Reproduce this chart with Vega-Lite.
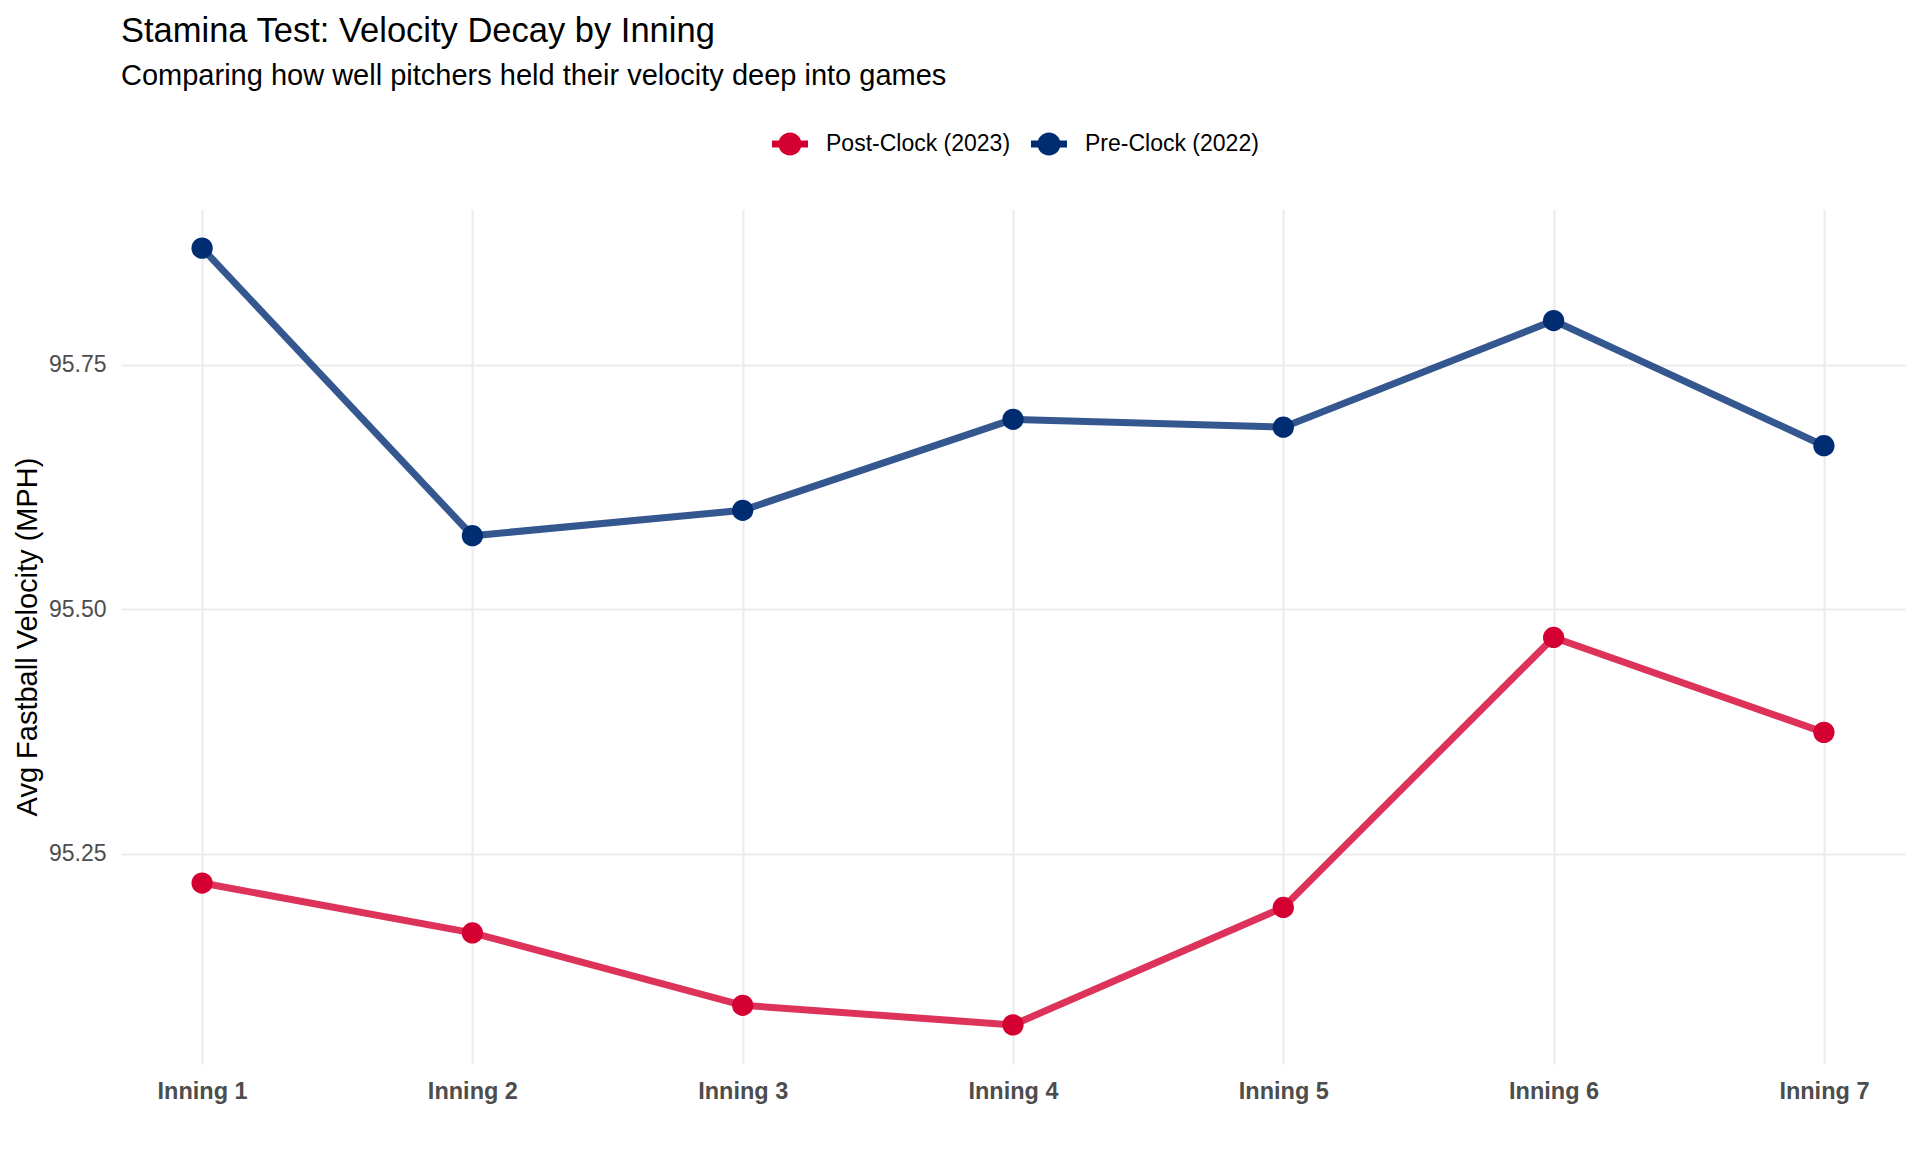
{
  "$schema": "https://vega.github.io/schema/vega-lite/v6.json",
  "width": 1784,
  "height": 855,
  "autosize": {"type": "none"},
  "padding": {"left": 121, "top": 209, "right": 15, "bottom": 88},
  "background": "white",
  "title": {
    "text": "Stamina Test: Velocity Decay by Inning",
    "subtitle": "Comparing how well pitchers held their velocity deep into games",
    "anchor": "start",
    "frame": "group",
    "font": "Liberation Sans",
    "fontSize": 34.5,
    "fontWeight": "normal",
    "color": "#000000",
    "subtitleFont": "Liberation Sans",
    "subtitleFontSize": 29,
    "subtitleColor": "#000000",
    "subtitlePadding": 13,
    "offset": 34
  },
  "data": {
    "values": [
      {"inning": "Inning 1", "era": "Post-Clock (2023)", "velo": 95.220},
      {"inning": "Inning 2", "era": "Post-Clock (2023)", "velo": 95.169},
      {"inning": "Inning 3", "era": "Post-Clock (2023)", "velo": 95.095},
      {"inning": "Inning 4", "era": "Post-Clock (2023)", "velo": 95.075},
      {"inning": "Inning 5", "era": "Post-Clock (2023)", "velo": 95.195},
      {"inning": "Inning 6", "era": "Post-Clock (2023)", "velo": 95.471},
      {"inning": "Inning 7", "era": "Post-Clock (2023)", "velo": 95.374},
      {"inning": "Inning 1", "era": "Pre-Clock (2022)", "velo": 95.869},
      {"inning": "Inning 2", "era": "Pre-Clock (2022)", "velo": 95.575},
      {"inning": "Inning 3", "era": "Pre-Clock (2022)", "velo": 95.601},
      {"inning": "Inning 4", "era": "Pre-Clock (2022)", "velo": 95.694},
      {"inning": "Inning 5", "era": "Pre-Clock (2022)", "velo": 95.686},
      {"inning": "Inning 6", "era": "Pre-Clock (2022)", "velo": 95.795},
      {"inning": "Inning 7", "era": "Pre-Clock (2022)", "velo": 95.667}
    ]
  },
  "encoding": {
    "x": {
      "field": "inning",
      "type": "ordinal",
      "scale": {"type": "point", "padding": 0.3},
      "axis": {
        "title": null,
        "labelAngle": 0,
        "labelFontWeight": "bold",
        "labelFontSize": 23.5,
        "labelColor": "#4d4d4d",
        "labelPadding": 15,
        "ticks": false,
        "domain": false,
        "grid": true
      }
    },
    "y": {
      "field": "velo",
      "type": "quantitative",
      "scale": {"domain": [95.035, 95.909], "nice": false, "zero": false},
      "axis": {
        "title": "Avg Fastball Velocity (MPH)",
        "values": [95.25, 95.5, 95.75],
        "format": ".2f",
        "labelFontSize": 23,
        "labelColor": "#4d4d4d",
        "labelPadding": 15,
        "titleFontSize": 29,
        "titleFontWeight": "normal",
        "titleColor": "#000000",
        "titlePadding": 6,
        "ticks": false,
        "domain": false,
        "grid": true
      }
    },
    "color": {
      "field": "era",
      "type": "nominal",
      "scale": {"domain": ["Post-Clock (2023)", "Pre-Clock (2022)"], "range": ["#D50032", "#002D72"]},
      "legend": {
        "title": null,
        "orient": "none",
        "legendX": 651,
        "legendY": -83,
        "direction": "horizontal",
        "padding": 0,
        "labelFontSize": 23,
        "labelLimit": 0,
        "labelColor": "#000000",
        "labelOffset": 18,
        "columnPadding": 20,
        "symbolSize": 1296,
        "symbolStrokeWidth": 0,
        "symbolOpacity": 1,
        "symbolType": "M-1,-0.19H1V0.19H-1Z M0.64,0A0.64,0.64 0 1,1 -0.64,0A0.64,0.64 0 1,1 0.64,0Z",
        "encode": {
          "symbols": {
            "update": {
              "fill": {"scale": "color", "field": "value"},
              "stroke": {"value": "transparent"},
              "opacity": {"value": 1}
            }
          }
        }
      }
    }
  },
  "layer": [
    {
      "mark": {"type": "line", "strokeWidth": 7, "opacity": 0.8}
    },
    {
      "mark": {"type": "point", "filled": true, "size": 452, "opacity": 1, "strokeWidth": 0}
    }
  ],
  "config": {
    "font": "Liberation Sans",
    "view": {"stroke": null},
    "axis": {"gridColor": "#ebebeb", "gridWidth": 2, "labelFont": "Liberation Sans", "titleFont": "Liberation Sans"},
    "legend": {"labelFont": "Liberation Sans"}
  }
}
